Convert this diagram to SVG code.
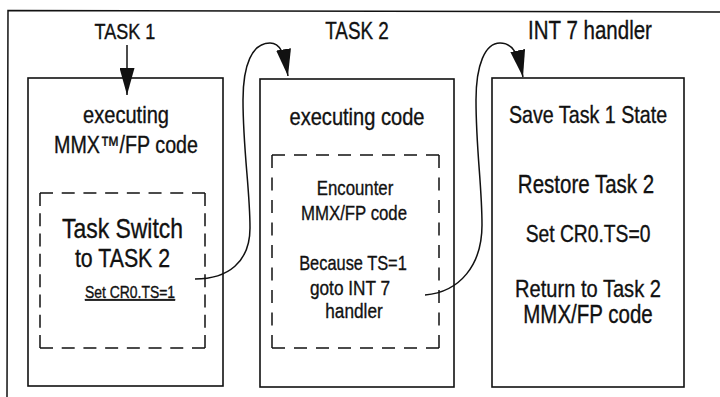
<svg xmlns="http://www.w3.org/2000/svg" width="720" height="397" viewBox="0 0 720 397">
  <defs>
    <style>
      .frame { fill: none; stroke: #111; stroke-width: 1.5; }
      .box { fill: #fff; stroke: #111; stroke-width: 1.6; }
      .dash { fill: none; stroke: #111; stroke-width: 1.5; }
      .conn { fill: none; stroke: #111; stroke-width: 1.5; }
      text { font-family: "Liberation Sans", Arial, sans-serif; fill: #111; stroke: #111; stroke-width: 0.35; text-anchor: middle; }
    </style>
    <marker id="arrow" viewBox="0 0 27 15" refX="27" refY="7.5" markerWidth="27" markerHeight="15" markerUnits="userSpaceOnUse" orient="auto">
      <path d="M0,0 L27,7.5 L0,15 z" fill="#111"/>
    </marker>
  </defs>
  <rect width="720" height="397" fill="#fff"/>
  <path class="frame" d="M7,397 L8,10.5 L720,12"/>

  <g id="title-task1">
    <text transform="translate(125,39) scale(0.82,1)" font-size="22">TASK 1</text>
  </g>
  <g id="title-task2">
    <text transform="translate(357,39) scale(0.82,1)" font-size="23">TASK 2</text>
  </g>
  <g id="title-int7">
    <text transform="translate(590,39) scale(0.82,1)" font-size="25">INT 7 handler</text>
  </g>

  <g id="task1">
    <rect class="box" x="28" y="78" width="195" height="308"/>
    <text transform="translate(126,123) scale(0.82,1)" font-size="24.5">executing</text>
    <text transform="translate(126,153) scale(0.82,1)" font-size="24">MMX™/FP code</text>
    <g id="task1-switch">
      <line class="dash" x1="40" y1="193" x2="205" y2="193" stroke-dasharray="13 8.71"/>
      <line class="dash" x1="40" y1="193" x2="40" y2="348" stroke-dasharray="13 7.29"/>
      <line class="dash" x1="205" y1="193" x2="205" y2="348" stroke-dasharray="13 7.29"/>
      <line class="dash" x1="40" y1="348" x2="205" y2="348" stroke-dasharray="13 8.71"/>
      <text transform="translate(122.5,238) scale(0.82,1)" font-size="28">Task Switch</text>
      <text transform="translate(122.5,267) scale(0.82,1)" font-size="26">to TASK 2</text>
      <text transform="translate(130,298) scale(0.82,1)" font-size="17" text-decoration="underline">Set CR0.TS=1</text>
    </g>
  </g>

  <g id="task2">
    <rect class="box" x="260" y="79" width="194" height="308"/>
    <text transform="translate(357,125) scale(0.82,1)" font-size="24.5">executing code</text>
    <g id="task2-encounter">
      <line class="dash" x1="272" y1="155" x2="439" y2="155" stroke-dasharray="13 9"/>
      <line class="dash" x1="272" y1="155" x2="272" y2="348" stroke-dasharray="13 9.5"/>
      <line class="dash" x1="439" y1="155" x2="439" y2="348" stroke-dasharray="13 9.5"/>
      <line class="dash" x1="272" y1="348" x2="439" y2="348" stroke-dasharray="13 9"/>
      <text transform="translate(355,195) scale(0.82,1)" font-size="20.5">Encounter</text>
      <text transform="translate(354,220) scale(0.82,1)" font-size="20.5">MMX/FP code</text>
      <text transform="translate(353,270) scale(0.82,1)" font-size="20">Because TS=1</text>
      <text transform="translate(350,295) scale(0.82,1)" font-size="21">goto INT 7</text>
      <text transform="translate(354,318) scale(0.82,1)" font-size="21">handler</text>
    </g>
  </g>

  <g id="int7">
    <rect class="box" x="492" y="78" width="192" height="309"/>
    <text transform="translate(588,123) scale(0.82,1)" font-size="24">Save Task 1 State</text>
    <text transform="translate(586,193) scale(0.82,1)" font-size="25">Restore Task 2</text>
    <text transform="translate(588,242) scale(0.82,1)" font-size="23.5">Set CR0.TS=0</text>
    <text transform="translate(588,297) scale(0.82,1)" font-size="24.5">Return to Task 2</text>
    <text transform="translate(588,323) scale(0.82,1)" font-size="25">MMX/FP code</text>
  </g>

  <g id="connectors">
    <line class="conn" x1="127" y1="45" x2="127" y2="95" marker-end="url(#arrow)"/>
    <path class="conn" d="M195,279 C228,279 250,262 250,228 C250,190 243,150 243,100 C243,65 252,43 270,43 C280,43 284,52 288,76" marker-end="url(#arrow)"/>
    <path class="conn" d="M425,295 C460,292 482,265 482,225 C482,185 476,150 476,100 C476,65 485,43 500,43 C512,43 518,52 523,77" marker-end="url(#arrow)"/>
  </g>
</svg>
